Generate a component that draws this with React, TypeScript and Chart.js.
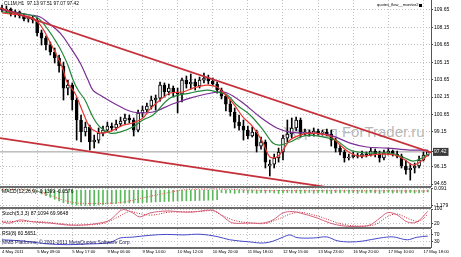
import React, { useEffect, useRef } from 'react';
import { Chart, registerables } from 'chart.js';

Chart.register(...registerables);

// ---------- data ----------
const timeLabels = ['4 May 2011', '5 May 09:00', '5 May 17:00', '9 May 06:00', '9 May 14:00', '10 May 12:00', '10 May 20:00', '11 May 18:00', '12 May 15:00', '13 May 23:00', '16 May 20:00', '17 May 10:00', '17 May 18:00'];
const timeTickBars = [0, 8, 16, 24, 32, 40, 48, 56, 64, 72, 80, 88, 96];

const opens = [109.82, 109.65, 109.73, 109.30, 109.48, 109.13, 108.87, 108.96, 108.79, 107.67,
  107.23, 106.63, 106.03, 105.51, 104.82, 102.92, 103.18, 101.89, 100.17, 99.13,
  99.56, 98.27, 98.44, 99.04, 99.30, 99.65, 99.48, 99.82, 100.08, 100.34,
  100.17, 99.30, 100.77, 101.03, 101.37, 101.89, 102.06, 103.18, 102.58, 102.92,
  102.58, 102.41, 103.61, 103.27, 103.44, 103.10, 103.61, 103.79, 103.53, 103.27,
  102.75, 102.23, 101.54, 100.86, 99.99, 99.65, 99.30, 98.79, 99.13, 97.92,
  98.27, 96.20, 96.37, 96.89, 97.41, 98.61, 98.96, 99.48, 100.17, 99.04,
  99.13, 98.96, 99.22, 99.04, 99.13, 98.96, 98.44, 97.75, 97.41, 96.89,
  96.98, 97.15, 97.06, 97.23, 97.15, 97.49, 97.23, 96.89, 97.32, 97.49,
  97.23, 97.06, 96.20, 95.86, 96.03, 96.20, 96.72, 97.13];
const highs = [110.08, 109.99, 109.82, 109.65, 109.56, 109.30, 109.13, 109.13, 108.96, 107.92,
  107.41, 106.89, 106.37, 105.77, 105.16, 103.61, 103.36, 102.06, 100.60, 99.99,
  99.73, 98.87, 99.48, 99.65, 99.99, 99.91, 100.17, 100.42, 100.68, 100.60,
  100.34, 101.03, 101.37, 101.63, 102.23, 102.32, 103.44, 103.36, 103.27, 103.10,
  102.92, 103.79, 103.96, 104.13, 103.70, 103.87, 104.22, 104.04, 103.79, 103.44,
  102.92, 102.41, 101.89, 101.20, 100.60, 100.17, 99.65, 99.56, 99.30, 98.70,
  98.44, 96.72, 97.23, 97.75, 98.87, 100.17, 100.34, 100.42, 100.34, 99.39,
  99.30, 99.48, 99.39, 99.30, 99.39, 99.30, 98.61, 98.01, 97.58, 97.23,
  97.41, 97.32, 97.49, 97.41, 97.75, 97.66, 97.49, 97.58, 97.75, 97.58,
  97.49, 97.23, 96.72, 96.37, 96.46, 97.06, 97.41, 97.51];
const lows = [109.48, 109.39, 109.13, 109.04, 108.96, 108.70, 108.61, 108.53, 107.41, 106.63,
  106.20, 105.77, 105.08, 104.30, 101.89, 102.32, 101.03, 98.44, 98.27, 98.79,
  97.58, 97.75, 98.18, 98.79, 99.13, 99.22, 99.30, 99.65, 99.82, 99.91,
  98.79, 99.13, 100.42, 100.86, 101.11, 101.03, 101.80, 102.15, 102.32, 102.15,
  100.77, 101.72, 102.92, 102.84, 102.75, 102.92, 103.36, 103.27, 103.10, 102.49,
  101.98, 100.94, 100.51, 99.48, 99.30, 98.44, 98.53, 98.70, 97.41, 97.66,
  96.03, 95.34, 96.03, 96.54, 96.72, 98.27, 98.61, 99.22, 98.70, 98.87,
  98.79, 98.79, 98.87, 98.87, 98.79, 97.92, 97.41, 97.15, 96.54, 96.72,
  96.89, 96.89, 96.89, 96.98, 97.06, 96.98, 96.54, 96.72, 97.15, 97.06,
  96.89, 96.03, 95.51, 94.99, 95.60, 96.03, 96.63, 97.07];
const closes = [109.65, 109.73, 109.30, 109.48, 109.13, 108.87, 108.96, 108.79, 107.67, 107.23,
  106.63, 106.03, 105.51, 104.82, 102.92, 103.18, 101.89, 100.17, 99.13, 99.56,
  98.27, 98.44, 99.04, 99.30, 99.65, 99.48, 99.82, 100.08, 100.34, 100.17,
  99.30, 100.77, 101.03, 101.37, 101.89, 102.06, 103.18, 102.58, 102.92, 102.58,
  102.41, 103.61, 103.27, 103.44, 103.10, 103.61, 103.79, 103.53, 103.27, 102.75,
  102.23, 101.54, 100.86, 99.99, 99.65, 99.30, 98.79, 99.13, 97.92, 98.27,
  96.54, 96.37, 96.89, 97.41, 98.61, 98.96, 99.48, 100.17, 99.04, 99.13,
  98.96, 99.22, 99.04, 99.13, 98.96, 98.44, 97.75, 97.41, 96.89, 96.98,
  97.15, 97.06, 97.23, 97.15, 97.49, 97.23, 96.89, 97.32, 97.49, 97.23,
  97.06, 96.20, 95.86, 96.03, 96.20, 96.72, 97.15, 97.42];

// moving averages, read as [bar, price]
const maFast = [[0, 109.39], [6.4, 109.04], [8.7, 108.36], [10.9, 106.9], [13.7, 104.73], [14.8, 103.44], [16.6, 102.49], [18.5, 100.77], [20, 99.56], [21.6, 99.13], [23, 99.04], [25.3, 99.3], [27.6, 99.73], [29.8, 99.91], [32.1, 100.34], [33.7, 101.1], [36, 101.89], [38.3, 102.5], [41.2, 102.58], [43.5, 102.92], [46.7, 103.18], [49, 103.01], [50.3, 102.58], [52.6, 101.63], [54.9, 100.42], [57.2, 99.56], [59.5, 98.18], [61, 96.98], [62.6, 96.98], [64, 97.58], [65.6, 98.44], [67.9, 98.87], [70.2, 99.04], [74.7, 98.79], [77, 98.01], [79.3, 97.32], [81.5, 97.06], [86.1, 97.23], [89.5, 97.15], [91.8, 96.72], [93.6, 96.29], [95.2, 96.54], [97, 97.15]];
const maMid = [[0, 109.48], [6.4, 109.22], [8.7, 108.79], [12.5, 106.8], [14.8, 105.08], [16.2, 103.61], [17.3, 102.75], [18.9, 101.89], [20.7, 100.42], [22.3, 99.56], [24.6, 99.04], [26.9, 99.13], [29.8, 99.56], [32.1, 100.17], [34.4, 100.6], [38.3, 102.06], [42.8, 102.49], [46.7, 102.75], [49, 102.58], [51.3, 102.32], [53.5, 101.46], [56.5, 100.6], [59.5, 99.3], [61.7, 98.18], [63.3, 98.01], [65.6, 98.27], [67.9, 98.7], [70.2, 98.87], [75.9, 98.44], [79.3, 97.58], [83.1, 97.32], [88.4, 97.32], [91.8, 96.89], [93.6, 96.63], [95.2, 96.8], [97, 97.23]];
const maSlow = [[0, 109.65], [6.4, 109.22], [8.7, 109.04], [10.3, 108.61], [13.2, 107.67], [15.5, 106.46], [17.8, 105.08], [19.6, 103.61], [20.7, 102.75], [22.3, 102.32], [26.2, 101.46], [29.8, 100.86], [34.4, 100.86], [38.3, 101.46], [42.8, 102.06], [49, 102.58], [51.3, 102.49], [54.9, 101.63], [58.8, 100.42], [62.6, 99.48], [65.6, 99.13], [70.2, 99.04], [74.7, 98.87], [79.3, 98.18], [83.1, 97.84], [87.7, 97.75], [92.9, 97.58], [97, 97.58]];

const upperTrend = [[-0.46, 109.82], [97.72, 97.37]];
const lowerTrend = [[-0.46, 98.61], [97.72, 93.04]];
const bidPrice = 97.42;
const priceTicks = [94.65, 96.15, 97.42, 99.15, 100.65, 102.15, 103.65, 105.15, 106.65, 108.15, 109.65];

const macdHist = [0.05, 0.06, 0.04, 0.03, 0.01, -0.02, -0.04, -0.06,
  -0.15, -0.28, -0.42, -0.55, -0.68, -0.80, -0.95,
  -1.02, -1.08, -1.12, -1.15, -1.14, -1.15, -1.14, -1.10, -1.08, -1.05, -1.03, -1.00,
  -0.98, -0.97, -0.96, -0.96, -0.95, -0.93, -0.92, -0.90, -0.88, -0.86, -0.85, -0.84, -0.83, -0.82, -0.81, -0.80, -0.79, -0.78, -0.77, -0.76, -0.75, -0.74, -0.72,
  -0.18, -0.22, -0.20, -0.25, -0.21, -0.18, -0.23, -0.20, -0.24, -0.19,
  -0.22, -0.17, -0.21, -0.25, -0.20, -0.18, -0.22, -0.19, -0.24, -0.21,
  -0.18, -0.23, -0.20, -0.17, -0.22, -0.25, -0.19, -0.21, -0.18, -0.23,
  -0.20, -0.24, -0.19, -0.22, -0.18, -0.21, -0.25, -0.20, -0.17, -0.22,
  -0.19, -0.23, -0.20, -0.18, -0.22, -0.21, -0.19, -0.14];
const macdSignal = [[0, 0.04], [6, 0.0], [10, -0.3], [14, -0.75], [17, -0.96], [26, -0.96], [30, -0.74], [34, -0.44], [37.6, -0.21], [41, 0.01], [45, 0.06], [49, 0.08], [60, -0.02], [75, -0.04], [97, -0.06]];
const macdTicks = [0.091, -1.179];

const stochMain = [[0, 28], [1.8, 22], [4.1, 39], [7.1, 28], [10.9, 22], [14.8, 11], [18.5, 11], [22.3, 22], [24.6, 39], [26.9, 90], [28, 96], [29.8, 78], [31.4, 56], [33.7, 78], [37.6, 89], [41.2, 83], [43.5, 83], [47.4, 94], [49, 83], [51.3, 39], [52.6, 22], [56.5, 22], [59.5, 22], [61.7, 39], [64, 78], [66.1, 86], [67.9, 78], [71.8, 50], [74.7, 22], [77.7, 6], [80.9, 3], [83.8, 11], [86.1, 50], [87.9, 80], [90, 67], [92.3, 28], [94.5, 28], [97, 87.1]];
const stochSignal = [[0, 32], [4, 30], [8, 30], [12, 22], [16, 12], [20, 12], [23, 20], [26, 50], [29, 86], [31, 76], [34, 66], [38, 82], [42, 85], [45, 86], [48, 90], [50, 66], [53, 36], [57, 22], [60, 20], [63, 45], [66, 75], [68, 82], [72, 60], [75, 35], [78, 13], [82, 5], [85, 14], [88, 60], [90, 72], [93, 42], [95, 32], [97, 70]];
const stochTicks = [100, 20];

const rsiLine = [[0, 40], [5, 33], [10, 18], [15, 13], [20, 17], [24, 22], [25.4, 33], [26.9, 50], [29.8, 55], [33.7, 65], [37.6, 70], [41.2, 67], [45.1, 71], [49, 58], [51.9, 40], [56.5, 28], [59.5, 22], [61.7, 32], [64, 55], [65.6, 67], [67.2, 52], [70.9, 50], [74, 56], [76.3, 35], [79.3, 28], [82.2, 33], [86.1, 50], [89.1, 56], [92.3, 40], [94.5, 54], [97, 60.57]];
const rsiTicks = [70, 30];

// ---------- helpers ----------
const X_MIN = -0.46;
const X_MAX = 97.72;
const FONT = "'Liberation Sans', Arial, sans-serif";
const GRID = '#c2c2c2';

const pts = (arr: number[][]) => arr.map(([x, y]) => ({ x, y }));

function xScale(showLabels: boolean) {
  return {
    type: 'linear',
    min: X_MIN,
    max: X_MAX,
    offset: false,
    afterBuildTicks: (s: any) => { s.ticks = timeTickBars.map((v) => ({ value: v })); },
    afterFit: (s: any) => { s.height = showLabels ? 10 : 0; s.paddingLeft = 0; s.paddingRight = 0; },
    grid: { display: true, offset: false, color: GRID, lineWidth: 1, drawTicks: false },
    border: { display: false, dash: [1, 2] },
    ticks: {
      display: showLabels, autoSkip: false, maxRotation: 0, minRotation: 0, align: 'start', padding: 2,
      color: '#000', font: { size: 4.2, family: FONT },
      callback: (_v: any, i: number) => timeLabels[i],
    },
  };
}

function yScale(min: number, max: number, values: number[], fmt: (v: number) => string, extra: any = {}) {
  return {
    type: 'linear',
    position: 'right',
    min, max,
    afterBuildTicks: (s: any) => { s.ticks = values.map((v) => ({ value: v })); },
    afterFit: (s: any) => { s.width = 30; s.paddingTop = 0; s.paddingBottom = 0; },
    grid: { color: extra.gridColor || GRID, lineWidth: 1, drawTicks: true, tickLength: 2, tickColor: '#444', tickWidth: 1 },
    border: { display: true, color: '#555', width: 1, dash: [1, 2] },
    ticks: {
      autoSkip: false, padding: 1, color: extra.tickColor || '#000',
      font: { size: 5, family: FONT },
      callback: (v: number) => fmt(v),
      ...(extra.ticks || {}),
    },
  };
}

function baseOptions(padTop: number, padBottom: number, showX: boolean, y: any) {
  return {
    animation: false,
    responsive: true,
    maintainAspectRatio: false,
    events: [],
    layout: { padding: { top: padTop, bottom: padBottom, left: 0, right: 0 } },
    plugins: { legend: { display: false }, tooltip: { enabled: false }, title: { display: false } },
    scales: { x: xScale(showX), y },
  };
}

const isBid = (c: any) => c && c.tick && c.tick.value === bidPrice;

function mainConfig(): any {
  const idx = opens.map((_, i) => i);
  const wicks = idx.map((i) => ({ x: i, y: [lows[i], highs[i]] }));
  const bodies = idx.map((i) => ({ x: i, y: [Math.min(opens[i], closes[i]), Math.max(opens[i], closes[i])] }));
  const bodyFill = idx.map((i) => (closes[i] >= opens[i] ? '#ffffff' : '#000000'));
  const line = (data: number[][], color: string, width: number, order: number, tension = 0.35) => ({
    type: 'line', data: pts(data), borderColor: color, borderWidth: width, pointRadius: 0, tension, order, fill: false,
  });
  return {
    type: 'bar',
    data: {
      datasets: [
        line(upperTrend, '#c5313a', 1.8, 1, 0),
        line(lowerTrend, '#c5313a', 1.8, 1, 0),
        line(maFast, '#e8372e', 1.2, 2),
        line(maMid, '#23873a', 1.2, 2),
        line(maSlow, '#7a2e96', 1.2, 2),
        line([[X_MIN, bidPrice], [X_MAX, bidPrice]], '#9a9a9a', 1, 20, 0),
        { type: 'bar', data: bodies, backgroundColor: bodyFill, borderColor: '#000', borderWidth: 1, borderSkipped: false, barThickness: 3, grouped: false, order: 5 },
        { type: 'bar', data: wicks, backgroundColor: '#000', borderWidth: 0, barThickness: 1, grouped: false, order: 6 },
      ],
    },
    options: baseOptions(0, 4, false, yScale(94.48, 110.51, priceTicks, (v) => v.toFixed(2), {
      gridColor: (c: any) => (isBid(c) ? 'rgba(0,0,0,0)' : GRID),
      tickColor: (c: any) => (isBid(c) ? '#ffffff' : '#000000'),
      ticks: {
        showLabelBackdrop: (c: any) => isBid(c),
        backdropColor: '#3a3a3a',
        backdropPadding: { top: 1, bottom: 1, left: 1, right: 2 },
      },
    })),
  };
}

function macdConfig(): any {
  return {
    type: 'bar',
    data: {
      datasets: [
        { type: 'line', data: pts(macdSignal), borderColor: '#e05050', borderWidth: 1, borderDash: [1, 1.5], pointRadius: 0, tension: 0.35, order: 1 },
        { type: 'bar', data: macdHist.map((v, i) => ({ x: i, y: v })), backgroundColor: '#5cb85c', barThickness: 1, grouped: false, order: 2 },
      ],
    },
    options: baseOptions(4, 4, false, yScale(-1.26, 0.16, macdTicks, (v) => v.toFixed(3))),
  };
}

function stochConfig(): any {
  return {
    type: 'line',
    data: {
      datasets: [
        { data: pts(stochMain), borderColor: '#d4607e', borderWidth: 1, pointRadius: 0, tension: 0.35 },
        { data: pts(stochSignal), borderColor: '#c42020', borderWidth: 1, borderDash: [1, 1.5], pointRadius: 0, tension: 0.35 },
      ],
    },
    options: baseOptions(4, 4, false, yScale(0, 100, stochTicks, (v) => String(v))),
  };
}

function rsiConfig(): any {
  return {
    type: 'line',
    data: {
      datasets: [
        { data: pts(rsiLine), borderColor: '#4848c8', borderWidth: 1, pointRadius: 0, tension: 0.35 },
      ],
    },
    options: baseOptions(4, 0, true, yScale(0, 100, rsiTicks, (v) => String(v))),
  };
}

function Panel({ top, height, build }: { top: number; height: number; build: () => any }) {
  const ref = useRef<HTMLCanvasElement>(null);
  useEffect(() => {
    const chart = new Chart(ref.current as HTMLCanvasElement, build());
    return () => chart.destroy();
  }, []);
  return (
    <div style={{ position: 'absolute', left: 0, top, width: 461, height }}>
      <canvas ref={ref} />
    </div>
  );
}

const txt = (extra: React.CSSProperties): React.CSSProperties => ({
  position: 'absolute', fontFamily: FONT, color: '#000', whiteSpace: 'nowrap', lineHeight: 1, ...extra,
});

export default function App() {
  const sep = (y: number) => (
    <div style={{ position: 'absolute', left: 0, top: y, width: 431, height: 2, background: '#6c6c6c' }} />
  );
  return (
    <div style={{ position: 'fixed', left: 0, top: 0, width: 461, height: 257, background: '#ffffff', overflow: 'hidden' }}>
      <div style={txt({ left: 283, top: 124, fontSize: 15, color: 'rgba(110,110,110,0.5)' })}>Журнал ForTrader.ru</div>
      <Panel top={0} height={190} build={mainConfig} />
      <Panel top={184} height={27} build={macdConfig} />
      <Panel top={205} height={26} build={stochConfig} />
      <Panel top={225} height={32} build={rsiConfig} />
      {sep(186)}
      {sep(207)}
      {sep(227)}
      {sep(247)}
      <div style={txt({ left: 4, top: 1.5, fontSize: 4.8 })}>CL1M,H1&nbsp;&nbsp;97.13 97.51 97.07 97.42</div>
      <div style={txt({ left: 377, top: 3, fontSize: 4 })}>quotes_flow__monitor2</div>
      <div style={{ position: 'absolute', left: 419, top: 4, width: 3, height: 3, background: '#000' }} />
      <div style={txt({ left: 2, top: 189, fontSize: 5 })}>MACD(12,26,9) -0.1399 -0.0576</div>
      <div style={txt({ left: 2, top: 211, fontSize: 5 })}>Stoch(5,3,3) 87.1094 69.9648</div>
      <div style={txt({ left: 2, top: 231, fontSize: 5 })}>RSI(8) 60.5651</div>
      <div style={txt({ left: 2, top: 240, fontSize: 5, color: '#22225e' })}>MMB Platforms, © 2001-2011 MetaQuotes Software Corp.</div>
    </div>
  );
}
